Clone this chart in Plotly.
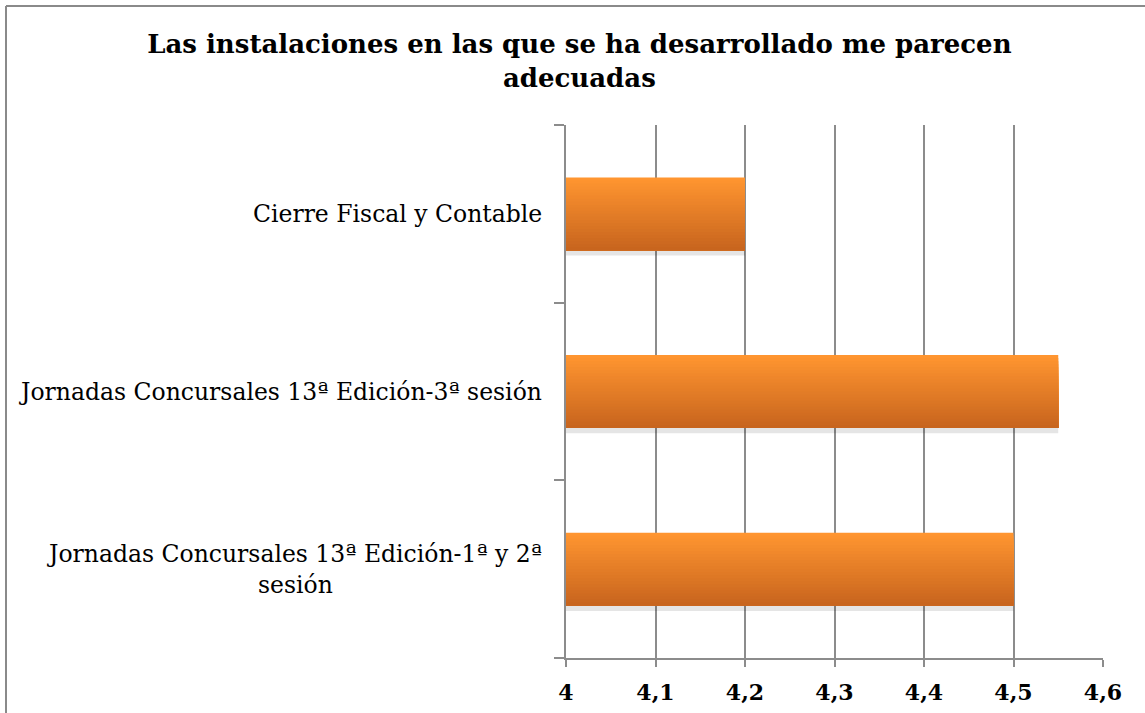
import plotly.graph_objects as go

# Data (categories listed bottom to top, as Plotly draws them)
categorias = [
    "Jornadas Concursales 13ª Edición-1ª y 2ª<br>sesión",
    "Jornadas Concursales 13ª Edición-3ª sesión",
    "Cierre Fiscal y Contable",
]
valores = [4.5, 4.55, 4.2]

titulo = "Las instalaciones en las que se ha desarrollado me parecen<br>adecuadas"

W, H = 1145, 713
L, R, T, B = 566, 42, 125, 55
PW, PH = W - L - R, H - T - B
BAR_W = 0.41
FONT = "DejaVu Serif"

top_rgb = (255, 149, 48)
bot_rgb = (200, 101, 30)


def mix(a, b, t):
    return "rgb(%d,%d,%d)" % tuple(round(a[k] + (b[k] - a[k]) * t) for k in range(3))


fig = go.Figure()

# soft shadow under each bar
fig.add_trace(go.Bar(
    x=valores, y=categorias, orientation="h",
    width=BAR_W, offset=-BAR_W / 2 - 0.03,
    marker=dict(color="rgba(0,0,0,0.1)", line=dict(width=0)),
    hoverinfo="skip",
))

# vertical gradient made of overlaid slices
n = 24
h = BAR_W / n
for i in range(n):
    fig.add_trace(go.Bar(
        x=valores, y=categorias, orientation="h",
        width=BAR_W - i * h, offset=-BAR_W / 2,
        marker=dict(color=mix(top_rgb, bot_rgb, i / (n - 1)), line=dict(width=0)),
        hoverinfo="skip" if i else "x+y",
    ))

for cat in categorias:
    fig.add_annotation(
        x=0, xref="paper", y=cat, yref="y",
        text=cat, showarrow=False, xanchor="right", yanchor="middle",
        align="center", xshift=-22,
        font=dict(family=FONT, size=23.5, color="#000000"),
    )

# outer frame of the chart (left and top edges fall inside the page)
frame = dict(color="#8a8a8a", width=2)
fx0, fy1 = (6 - L) / PW, 1 + (T - 6) / PH
fx1, fy0 = (W + 5 - L) / PW, -(B + 5) / PH
fig.add_shape(type="line", xref="paper", yref="paper",
              x0=fx0, x1=fx1, y0=fy1, y1=fy1, line=frame)
fig.add_shape(type="line", xref="paper", yref="paper",
              x0=fx0, x1=fx0, y0=fy0, y1=fy1, line=frame)

fig.update_layout(
    width=W, height=H,
    margin=dict(l=L, r=R, t=T, b=B, pad=0),
    barmode="overlay",
    showlegend=False,
    plot_bgcolor="white",
    paper_bgcolor="white",
    separators=",.",
    title=dict(
        text="<b>" + titulo + "</b>",
        x=0.506, xanchor="center", yref="container", y=1 - 53 / H, yanchor="top",
        font=dict(family=FONT, size=26, color="#000000"),
    ),
    xaxis=dict(
        range=[4, 4.6], dtick=0.1, tick0=4,
        showgrid=True, gridcolor="#8c8c8c", gridwidth=1.5,
        showline=True, linecolor="#8c8c8c", linewidth=1.5,
        ticks="outside", ticklen=7, tickcolor="#8c8c8c", tickwidth=1.5,
        ticklabelstandoff=7, automargin=False,
        zeroline=False,
        tickfont=dict(family=FONT, size=22, color="#000000", weight="bold"),
    ),
    yaxis=dict(
        type="category", categoryorder="array", categoryarray=categorias,
        range=[-0.5, 2.5], automargin=False,
        showgrid=False, showticklabels=False,
        showline=True, linecolor="#8c8c8c", linewidth=1.5,
        ticks="outside", ticklen=10, tickcolor="#8c8c8c", tickwidth=1.5,
        tickson="boundaries",
    ),
)

fig.write_html(
    "out.html",
    config={"displayModeBar": False},
    post_script="document.body.style.margin='0';",
)
